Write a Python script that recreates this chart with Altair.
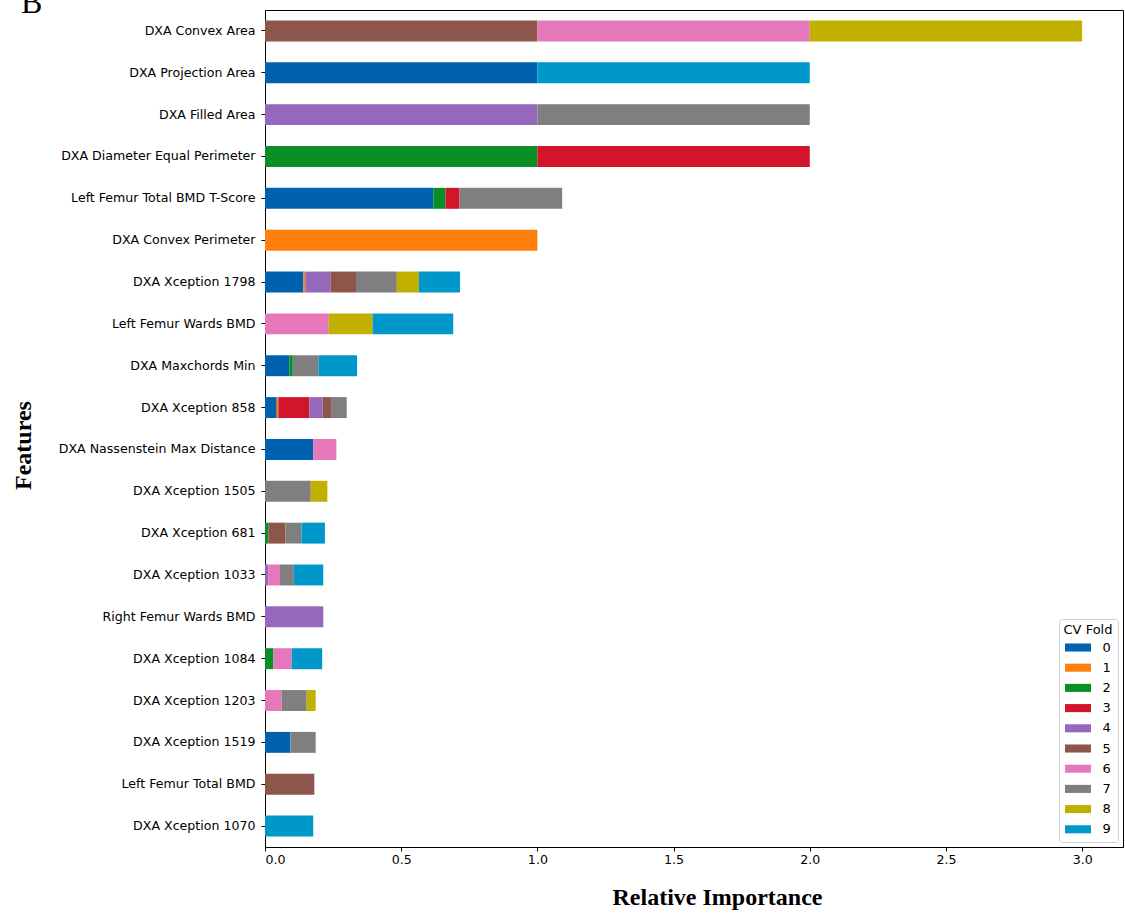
import altair as alt
import pandas as pd

features = [
    "DXA Convex Area", "DXA Projection Area", "DXA Filled Area",
    "DXA Diameter Equal Perimeter", "Left Femur Total BMD T-Score",
    "DXA Convex Perimeter", "DXA Xception 1798", "Left Femur Wards BMD",
    "DXA Maxchords Min", "DXA Xception 858", "DXA Nassenstein Max Distance",
    "DXA Xception 1505", "DXA Xception 681", "DXA Xception 1033",
    "Right Femur Wards BMD", "DXA Xception 1084", "DXA Xception 1203",
    "DXA Xception 1519", "Left Femur Total BMD", "DXA Xception 1070",
]

fold0 = [0, 1.0, 0, 0, 0.618, 0, 0.141, 0, 0.089, 0.043, 0.177, 0, 0, 0, 0, 0, 0, 0.093, 0, 0]
fold1 = [0, 0, 0, 0, 0, 1.0, 0.007, 0, 0, 0.006, 0, 0, 0, 0, 0, 0, 0, 0, 0, 0]
fold2 = [0, 0, 0, 1.0, 0.045, 0, 0, 0, 0.013, 0, 0, 0, 0.012, 0, 0, 0.031, 0, 0, 0, 0]
fold3 = [0, 0, 0, 1.0, 0.051, 0, 0, 0, 0, 0.114, 0, 0, 0, 0, 0, 0, 0, 0, 0, 0]
fold4 = [0, 0, 1.0, 0, 0, 0, 0.092, 0, 0, 0.049, 0, 0, 0, 0.012, 0.214, 0, 0, 0, 0, 0]
fold5 = [1.0, 0, 0, 0, 0, 0, 0.094, 0, 0, 0.033, 0, 0, 0.063, 0, 0, 0, 0, 0, 0.181, 0]
fold6 = [1.0, 0, 0, 0, 0, 0, 0, 0.234, 0, 0, 0.085, 0, 0, 0.043, 0, 0.067, 0.061, 0, 0, 0]
fold7 = [0, 0, 1.0, 0, 0.377, 0, 0.150, 0, 0.094, 0.055, 0, 0.168, 0.059, 0.051, 0, 0, 0.092, 0.093, 0, 0]
fold8 = [1.0, 0, 0, 0, 0, 0, 0.081, 0.161, 0, 0, 0, 0.061, 0, 0, 0, 0, 0.033, 0, 0, 0]
fold9 = [0, 1.0, 0, 0, 0, 0, 0.151, 0.296, 0.142, 0, 0, 0, 0.086, 0.108, 0, 0.112, 0, 0, 0, 0.177]

folds = [fold0, fold1, fold2, fold3, fold4, fold5, fold6, fold7, fold8, fold9]
fold_colors = ["#0062ae", "#ff7f0e", "#0a8f26", "#d2152a", "#9568bd",
               "#8c564b", "#e577bb", "#7f7f7f", "#c2b000", "#0097ca"]
x_ticks = [0.0, 0.5, 1.0, 1.5, 2.0, 2.5, 3.0]
panel_label = "B"

rows = []
for k, vals in enumerate(folds):
    for f, v in zip(features, vals):
        if v > 0:
            rows.append({"feature": f, "fold": str(k), "fold_n": k, "value": v})
df = pd.DataFrame(rows)

bars = alt.Chart(df).mark_bar().encode(
    x=alt.X("value:Q", stack="zero",
            scale=alt.Scale(domain=[0, 3.15], nice=False, zero=True),
            axis=alt.Axis(title="Relative Importance", values=x_ticks, format=".1f",
                          titleX=452, titleY=50, titleBaseline="middle",
                          titleFont="Liberation Serif", titleFontSize=24,
                          titleFontWeight="bold", titleColor="black")),
    y=alt.Y("feature:N", sort=features,
            scale=alt.Scale(paddingInner=0.5, paddingOuter=0.25),
            axis=alt.Axis(title="Features", titleX=-242, titleY=435,
                          titleAngle=270, titleAlign="center", titleBaseline="middle",
                          titleFont="Liberation Serif", titleFontSize=24,
                          titleFontWeight="bold", titleColor="black",
                          labelPadding=6, labelLimit=400)),
    color=alt.Color("fold:N", sort=[str(i) for i in range(10)],
                    scale=alt.Scale(domain=[str(i) for i in range(10)], range=fold_colors),
                    legend=alt.Legend(title="CV Fold", orient="bottom-right", offset=5)),
    order=alt.Order("fold_n:Q", sort="ascending"),
)

label = alt.Chart(pd.DataFrame({"t": [panel_label]})).mark_text(
    align="left", baseline="alphabetic", font="Liberation Serif",
    fontSize=32, color="black"
).encode(text="t:N", x=alt.value(-244), y=alt.value(3))

chart = alt.layer(bars, label).properties(
    width=858, height=837,
    autosize=alt.AutoSizeParams(type="none"),
    padding={"left": 265, "top": 10, "right": 2, "bottom": 66},
).configure_view(
    stroke="black", strokeWidth=1
).configure_axis(
    labelFont="DejaVu Sans", labelFontSize=12.6, labelColor="black",
    tickColor="black", tickSize=4, domainColor="black", grid=False,
).configure_legend(
    titleFont="DejaVu Sans", titleFontSize=13, titleFontWeight="normal",
    titleColor="black", titleAnchor="middle", titlePadding=4,
    labelFont="DejaVu Sans", labelFontSize=13, labelColor="black",
    symbolType="M-2,-0.62H2V0.62H-2Z", symbolSize=169, symbolStrokeWidth=0,
    symbolOffset=6.5, labelOffset=18, rowPadding=6.2,
    padding=5, strokeColor="#d0d0d0", fillColor="white", cornerRadius=3,
)

chart.save("out.html", embed_options={"renderer": "svg", "actions": False})
